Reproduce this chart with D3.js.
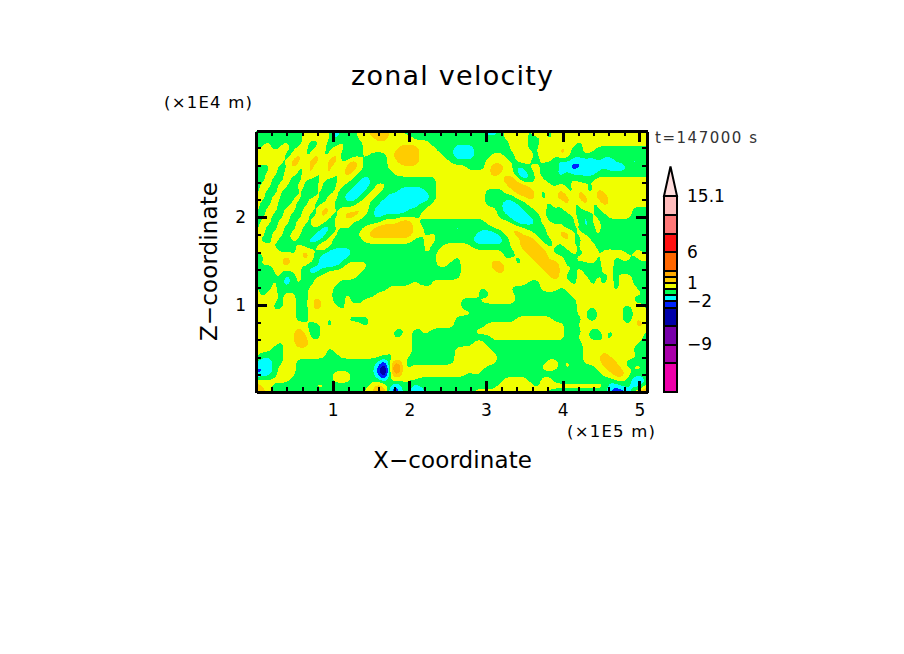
<!DOCTYPE html>
<html>
<head>
<meta charset="utf-8">
<title>zonal velocity</title>
<script src="https://cdnjs.cloudflare.com/ajax/libs/d3/7.8.5/d3.min.js"></script>
<style>
  html, body { margin: 0; padding: 0; background: #fff; }
  svg { display: block; }
  text { font-family: "DejaVu Sans", sans-serif; fill: #000; }
</style>
</head>
<body>
<div id="chart"></div>
<script>
// contour levels of the colour bar (m/s) and the fill above each level
var levels = [-16.7, -12, -9, -6, -3, -2, -1, 0, 1, 2, 3, 6, 9, 12, 15.1];
var bandColors = ['#ee00aa', '#aa00aa', '#7700aa', '#0000aa', '#0022ff', '#00ffff', '#00ff55',
  '#f0ff00', '#ffcc00', '#ffaa00', '#ff6600', '#ff1111', '#ff7777', '#ffbbbb'];
var tipColor = '#ffdddd';
var tipValue = 19.9;
var colorTicks = [15.1, 6, 1, -2, -9];

var xTicks = [1, 2, 3, 4, 5];
var zTicks = [1, 2];
var xMax = 5.1, zMax = 2.99;

// letter codes, each one stands for a value inside a band
var bandCodes = ['n', 'b', 'c', 'g', 'y', 'o', 'a', 'r'];
var bandValues = [-6, -3, -2, -0.5, 0.5, 2, 3, 6];

// one string per row, top of the domain first: west half and east half
var zonalWest = [
  'gggggggygyyyycgygyyoooyyggggggggg',
  'ggggggggyyyyycgggyyyooyyyyggggggg',
  'ggyggyggyggyggygggyyyyyyyyyyygggg',
  'gyygyygyygyygyygggyyyyyyoooyyyggg',
  'yyyyyggoggoggogcggygggyooooyyyygg',
  'yyyyygoogoogoogyoyggggyyoooyyyyyg',
  'gggyggoggoggoggooyggggyyyyyyyyyoy',
  'ygyygyygyogyogyoyggggggyyyyyyyyyy',
  'ggyggyggyggyggyyggcgggggggggggyyy',
  'gyygyygyycyycyyggccgyyggggggggyyy',
  'gyggygcygcyggyggccgyygggccccggyyy',
  'yygyycyygyygyygccgyyggcccccccgyyy',
  'yggyggyggyggyggggyyggccccccggyyyy',
  'ygyygyygyygoogyyyoygcccccgggyyyyy',
  'ggyggyggyggoggyooyggcggggggyyyyyy',
  'gyygyygyygoygyyygggggyyyooygggggg',
  'gyggyggyggyccygyggyyooooooyyggggg',
  'yygyygyygyccyygggyyoooooooyygyggg',
  'yggyggyggccgygggggyyyyyyyyggyyggg',
  'yyygycgyggyoygggggggggggggggyggyy',
  'gyyygygyoyggccccggggggggggggygyyy',
  'ggyyyoygoygccccgggggggggggggggyyy',
  'gyyyyoygyggcccgyyyygggggggggggyyg',
  'ggcyygyygccgyyyyyyggggggggggggggg',
  'ggggycgyggyyyyyyygggggggggggggggg',
  'gggygcgyggyyyyggggggggggggyggyyyy',
  'yggygggggyyyygggggggggyyyyyyygyyy',
  'ygyygyyggyyyyggyggggyyyyyyyyyyyyy',
  'yyyygyyggyoyyggyggyyyyyyyyyyyyyyy',
  'yyyggyyggyoyyygyyyyyyyyyyyyyyyyyy',
  'yyyyyyyggyyyyyygyyyyyyyyyyyyyyyyy',
  'yyyyyyyggyyygygygggyyyyyyyyyyyyyy',
  'yyyyyyyyyggygyygyygyyyyyyyyyyyyyy',
  'yyyyyyyoyggyygyyyyyyygyggyggygggg',
  'yyyyyyyooggyyyyyyyyyyyygyygyggggg',
  'yyyygyyooyyyyyyyyyyyyyyyyyggggggg',
  'yyyggyyyyyyygyyyyyyyyyyyyyggggggg',
  'yggggyyyyyyyggyyyyyyyyggyyggggggg',
  'gccggyyggggggggggggggbyoygcgggggg',
  'cccgyyygggggggggggggcnyrygoyyyyyy',
  'bccgyyyggggggyyyggggcnyaygyyyyyyy',
  'yyyyyygggggggyyygggggcyyyyygggggg',
  'oyygggggggyygggggggyoygbggcgggggg',
  'ooygggggggggggggggyyaabbggccggggg'
];
var zonalEast = [
  'yygggccgyyyygoygyyyyyyyyyyyyyyyy',
  'ggggggggyyyyggygyyyyyyyyyyyyyyyy',
  'gggggggggyyyggyygyyygyyyyyyyyyyy',
  'cccggggggyyyggoygoyggyyggggggggg',
  'cccgggyyggyoygyogoyggygggggggggg',
  'gggggyyyygyyggyggcgccccgccgggcgg',
  'yygggyooyycgyyggyccbccccgcccgggg',
  'yyyyyyoyyyccgygcgcycgccggggggggg',
  'yyyyyyyyooycgyyggggyggyyyyyyyyyy',
  'yyyyyyyyyoooygyygygyyygyyyyyyyyy',
  'yyyyygggyyoooygyyoggoggoyyyyyyyy',
  'yyyyygggggyyoygyyoogoogooyyyyyyy',
  'yyyyygggccggyyygygoggoggoyyyyyyy',
  'yyyyyyygcccggyygygyygyygyyyyyggg',
  'yyyyyyyggcccggygcggygcyggyyyyggg',
  'gggggyyyygcccgyygycyycyygggggggg',
  'cgggggyyyoyygggyyyggycgygggggggg',
  'ggggcccgyyoyyggyyoogyygygggggggg',
  'gggcccccgyyooyggygoggygggggggggg',
  'yyyggggggyyoooygygyygoyggggggggg',
  'yyyyyyyyggyyoooygggyggogyyyygyyg',
  'gyyyyyyygygyyooyyyggyyygyygyygyy',
  'gyyyyyooyygyyyoooygyggygyygggggg',
  'gyyyyyyoyyyyyyyooyygygcgygygygyg',
  'gyyyyyyyyyyyyyyyoyggyygygygygygg',
  'yyyyyyyyyyyyggyyyyygyygygygyyggg',
  'yyyygyyyygggggyyygyygyygyygyyygg',
  'yyyyggyyyygggggggggyygyyygyyyyyg',
  'ygggyyyyyyggggggggggyygyyyyyacgg',
  'ygggggggggggggggggggyyyyyyyycayg',
  'yyygggggggggggggggggyycyyyyycyyy',
  'ggggggggggyyyyyygggggygyyyyycoyy',
  'gggggyyyyyyyyyyyyyggyyyyyyyyyyoy',
  'gggyyyyyyyyyyyyyyygggyggygyyyyyg',
  'ggggggyyyyyyyyyyyyggyyggygyyyyyg',
  'gggyyggggggggggggggggyyygyyyyygg',
  'yyyyyygggggggggggggggyyyyyyyyggg',
  'yyyyyyyggggggggggggggyyyoyyyyygg',
  'yyyyyyyggggggggyygyggyyyooyygggg',
  'yyyyygggggggggyyygyggggyyooygyyg',
  'yygygggggggggggggggggcggyyooyggg',
  'ggggggggyyyyggyyggggggggggyygccg',
  'gggggggyyyyyygyyyyyyyyyyyccggccy',
  'gggyyyyyyyyyyyyggggggggggcbbcyaa'
];

var nCols = 65, nRows = zonalWest.length;
var fine = 4;

var svg = d3.select('#chart').append('svg')
  .attr('width', 904)
  .attr('height', 654);

var x = d3.scaleLinear().domain([0, xMax]).range([256, 647]);
var z = d3.scaleLinear().domain([0, zMax]).range([392, 131]);
var colorY = d3.scaleLinear().domain([levels[0], 15.1]).range([392, 196]);

var grid = zonalWest.map(function(row, j) {
  var codes = (row.slice(0, 33).padEnd(33, 'g') + zonalEast[j].slice(0, 32).padEnd(32, 'g')).split('');
  return codes.map(function(c) { return bandValues[bandCodes.indexOf(c)]; });
});

// resample the read-off grid and soften it so the contours are not stair-stepped
var fineW = (nCols - 1) * fine + 1, fineH = (nRows - 1) * fine + 1;
var values = new Float64Array(fineW * fineH);
for (var fj = 0; fj < fineH; fj++) {
  for (var fi = 0; fi < fineW; fi++) {
    var gx = fi / fine, gy = fj / fine;
    var i0 = Math.min(Math.floor(gx), nCols - 2), j0 = Math.min(Math.floor(gy), nRows - 2);
    var tx = gx - i0, ty = gy - j0;
    values[fj * fineW + fi] =
      grid[j0][i0] * (1 - tx) * (1 - ty) + grid[j0][i0 + 1] * tx * (1 - ty) +
      grid[j0 + 1][i0] * (1 - tx) * ty + grid[j0 + 1][i0 + 1] * tx * ty;
  }
}
d3.blur2({data: values, width: fineW, height: fineH}, 1.5);

var contours = d3.contours().size([fineW, fineH]).thresholds(levels.slice(0, -1))(values);

// contour coordinates -> data coordinates
var cellX = d3.scaleLinear().domain([0.5, fineW - 0.5]).range([0, xMax]);
var cellZ = d3.scaleLinear().domain([0.5, fineH - 0.5]).range([zMax, 0]);
var path = d3.geoPath(d3.geoTransform({
  point: function(i, j) {
    this.stream.point(x(cellX(i)), z(cellZ(j)));
  }
}));

svg.append('clipPath').attr('id', 'frame').append('rect')
  .attr('x', x(0)).attr('y', z(zMax))
  .attr('width', x(xMax) - x(0)).attr('height', z(0) - z(zMax));

svg.append('g').attr('clip-path', 'url(#frame)')
  .attr('shape-rendering', 'crispEdges')
  .selectAll('path').data(contours).enter().append('path')
  .attr('d', path)
  .attr('fill', function(d, i) { return bandColors[i]; });

// frame: major and minor ticks point inward on all four sides
function tickRange(max) {
  return d3.range(0.2, max, 0.2).filter(function(v) {
    return Math.abs(v - Math.round(v)) > 0.01;
  });
}
function frameAxis(make, scale, offset, values, size, showLabels, padding) {
  var axis = make(scale).tickValues(values).tickSizeOuter(0).tickSizeInner(-size).tickPadding(padding || 0);
  axis.tickFormat(showLabels ? d3.format('d') : '');
  var g = svg.append('g').attr('transform', offset).attr('shape-rendering', 'crispEdges').call(axis);
  g.selectAll('path').attr('stroke', '#000').attr('stroke-width', 3);
  g.selectAll('line').attr('stroke', '#000').attr('stroke-width', size > 6 ? 3 : 2);
  g.selectAll('text').attr('font-size', 17).attr('font-family', '"DejaVu Sans", sans-serif');
  return g;
}
var bottom = 'translate(0,' + z(0) + ')', top_ = 'translate(0,' + z(zMax) + ')';
var left = 'translate(' + x(0) + ',0)', right = 'translate(' + x(xMax) + ',0)';

frameAxis(d3.axisBottom, x, bottom, tickRange(xMax), 5, false);
frameAxis(d3.axisTop, x, top_, tickRange(xMax), 5, false);
frameAxis(d3.axisLeft, z, left, tickRange(zMax), 5, false);
frameAxis(d3.axisRight, z, right, tickRange(zMax), 5, false);
frameAxis(d3.axisBottom, x, bottom, xTicks, 11, true, 12);
frameAxis(d3.axisTop, x, top_, xTicks, 11, false);
frameAxis(d3.axisLeft, z, left, zTicks, 11, true, 10);
frameAxis(d3.axisRight, z, right, zTicks, 11, false);

// titles and unit labels
function label(txt, px, py, size, width, anchor, transform) {
  var t = svg.append('text')
    .attr('x', px).attr('y', py)
    .attr('font-size', size)
    .attr('text-anchor', anchor || 'start')
    .text(txt);
  if (width) t.attr('textLength', width).attr('lengthAdjust', 'spacing');
  if (transform) t.attr('transform', transform);
  return t;
}
label('zonal velocity', 351, 85, 27, 202);
label('(\u00d71E4 m)', 164, 108, 16.5, 88);
label('(\u00d71E5 m)', 567, 437, 16.5, 88);
label('X\u2212coordinate', 373, 468, 23, 159);
label('Z\u2212coordinate', 0, 0, 23, 159, 'start', 'translate(217,341) rotate(-90)');
label('t=147000 s', 655, 143, 15, 102).style('fill', '#333');

// colour bar
var barX = 664, barW = 13;
var bar = svg.append('g').attr('shape-rendering', 'crispEdges');
bar.selectAll('rect').data(bandColors).enter().append('rect')
  .attr('x', barX)
  .attr('y', function(d, i) { return colorY(levels[i + 1]); })
  .attr('width', barW)
  .attr('height', function(d, i) { return colorY(levels[i]) - colorY(levels[i + 1]); })
  .attr('fill', function(d) { return d; })
  .attr('stroke', '#000')
  .attr('stroke-width', 2);

svg.append('path')
  .attr('d', d3.line()([[barX, colorY(15.1)], [barX + barW / 2, colorY(tipValue)], [barX + barW, colorY(15.1)]]) + 'Z')
  .attr('fill', tipColor)
  .attr('stroke', '#000')
  .attr('stroke-width', 2);

var barAxis = d3.axisRight(colorY).tickValues(colorTicks).tickSize(0).tickPadding(23).tickFormat(d3.format(''));
var barG = svg.append('g').attr('transform', 'translate(' + barX + ',0)').call(barAxis);
barG.select('.domain').remove();
barG.selectAll('text').attr('font-size', 17).attr('font-family', '"DejaVu Sans", sans-serif');
</script>
</body>
</html>
